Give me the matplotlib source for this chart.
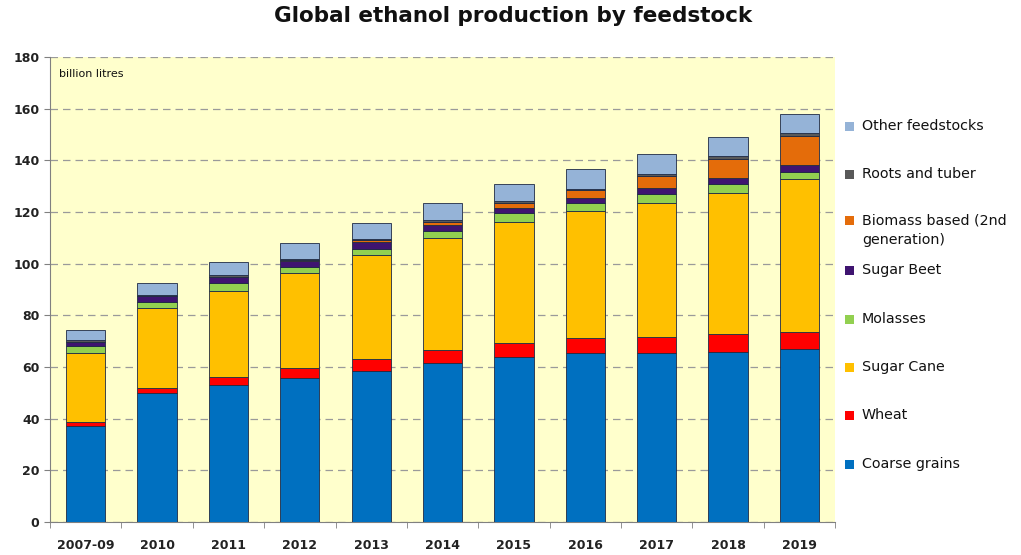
import numpy as np
import matplotlib
matplotlib.use('Agg')
import matplotlib.pyplot as plt
from matplotlib.patches import Rectangle

years = ['2007-09', '2010', '2011', '2012', '2013', '2014',
         '2015', '2016', '2017', '2018', '2019']

coarse_grains = [37.2, 50.0, 53.0, 55.6, 58.5, 61.4, 63.7, 65.3, 65.3, 65.9, 66.9]
wheat = [1.6, 2.0, 3.3, 3.9, 4.5, 5.2, 5.7, 5.8, 6.4, 6.8, 6.8]
sugar_cane = [26.7, 31.0, 33.2, 36.8, 40.3, 43.5, 46.9, 49.4, 51.9, 54.7, 59.0]
molasses = [2.8, 2.0, 2.9, 2.5, 2.6, 2.7, 3.2, 2.9, 3.3, 3.4, 3.0]
sugar_beet = [1.5, 2.5, 2.3, 2.2, 2.4, 2.2, 2.1, 2.2, 2.6, 2.5, 2.6]
biomass = [0.0, 0.0, 0.0, 0.4, 0.8, 1.3, 2.1, 3.0, 4.5, 7.3, 11.3]
roots = [0.5, 0.5, 0.8, 0.6, 0.6, 0.6, 0.5, 0.5, 0.8, 1.1, 0.9]
other = [3.9, 4.6, 5.0, 6.0, 5.9, 6.5, 6.7, 7.4, 7.7, 7.5, 7.5]

series = [coarse_grains, wheat, sugar_cane, molasses, sugar_beet, biomass, roots, other]
names = ['Coarse grains', 'Wheat', 'Sugar Cane', 'Molasses', 'Sugar Beet',
         'Biomass based (2nd\ngeneration)', 'Roots and tuber', 'Other feedstocks']
colors = ['#0070C0', '#FF0000', '#FFC000', '#92D050', '#3F1470',
          '#E46C0A', '#595959', '#95B3D7']

fig = plt.figure(figsize=(10.21, 5.55), dpi=100)
ax = fig.add_axes([0.049, 0.0595, 0.769, 0.8375])
ax.set_facecolor('#FFFFCC')

x = np.arange(len(years))
bottom = np.zeros(len(years))
for vals, c in zip(series, colors):
    ax.bar(x, vals, 0.55, bottom=bottom, color=c,
           edgecolor='#1F2A44', linewidth=0.6, zorder=3)
    bottom += np.array(vals)

ax.set_ylim(0, 180)
ax.set_xlim(-0.5, len(years) - 0.5)
ax.set_yticks(np.arange(0, 181, 20))
ax.yaxis.grid(True, linestyle=(0, (6, 4)), color='#9A9A9A', linewidth=0.9, zorder=0)
ax.set_axisbelow(True)

ax.set_xticks(x)
ax.set_xticklabels(years, fontsize=9, fontweight='bold', color='#222222')
ax.tick_params(axis='x', length=0, pad=12)
ax.set_xticks(np.arange(-0.5, len(years), 1), minor=True)
ax.tick_params(axis='x', which='minor', length=4, color='#808080')
ax.tick_params(axis='y', labelsize=9, length=4, color='#808080', labelcolor='#222222')
for lab in ax.get_yticklabels():
    lab.set_fontweight('bold')

for s in ['top', 'right']:
    ax.spines[s].set_visible(False)
for s in ['left', 'bottom']:
    ax.spines[s].set_color('#808080')

ax.text(0.012, 0.975, 'billion litres', transform=ax.transAxes,
        fontsize=8, va='top', ha='left', color='#111111')

fig.suptitle('Global ethanol production by feedstock', x=0.503, y=0.99,
             fontsize=15.5, fontweight='bold', color='#111111')

# legend drawn by hand: top entry first, evenly spaced
W, H = 1021, 555
leg_y = [127, 175, 221, 271, 320, 368, 416, 465]
for yy, name, c in zip(leg_y, names[::-1], colors[::-1]):
    fig.patches.append(Rectangle((845 / W, 1 - (yy + 4) / H), 9 / W, 9 / H,
                                 transform=fig.transFigure, facecolor=c,
                                 edgecolor='none'))
    fig.text(862 / W, 1 - (yy - 8) / H, name, fontsize=10.3, va='top',
             ha='left', color='#111111', linespacing=1.5)

fig.savefig('out.png', dpi=100)
